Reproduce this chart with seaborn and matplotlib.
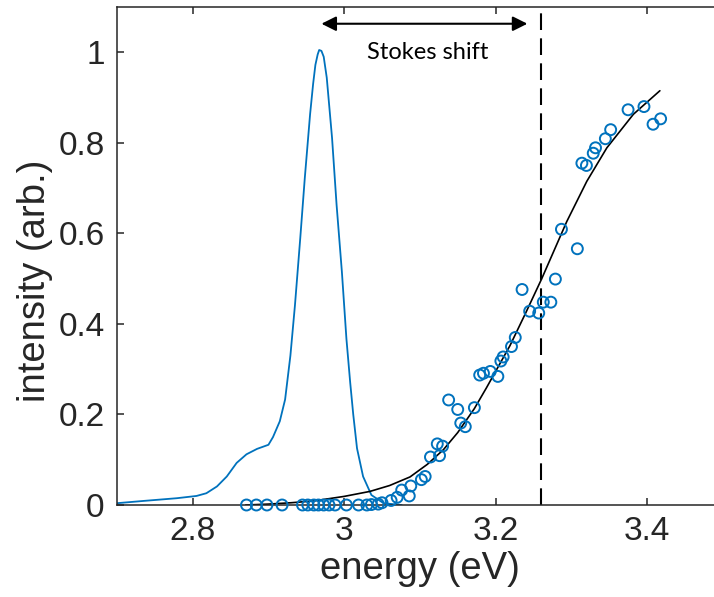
import numpy as np
import pandas as pd
import matplotlib
matplotlib.use("Agg")
import matplotlib.pyplot as plt
import seaborn as sns

# ---- data ----
pl_energy = [2.700, 2.735, 2.779, 2.805, 2.818, 2.832, 2.845, 2.858, 2.871, 2.885,
             2.900, 2.906, 2.915, 2.922, 2.929, 2.935, 2.942, 2.948, 2.955, 2.959,
             2.962, 2.965, 2.967, 2.970, 2.973, 2.977, 2.984, 2.990, 2.997, 3.003,
             3.008, 3.012, 3.017, 3.025, 3.036, 3.052, 3.076]
pl_intensity = [0.004, 0.009, 0.015, 0.020, 0.026, 0.041, 0.063, 0.093, 0.112, 0.124,
                0.133, 0.150, 0.185, 0.233, 0.330, 0.441, 0.589, 0.722, 0.863, 0.930,
                0.972, 0.995, 1.005, 1.003, 0.990, 0.944, 0.811, 0.663, 0.515, 0.367,
                0.270, 0.200, 0.125, 0.063, 0.022, 0.004, 0.000]

abs_energy = [2.871, 2.884, 2.898, 2.918, 2.945, 2.952, 2.960, 2.966, 2.973, 2.980,
              2.988, 3.003, 3.019, 3.030, 3.036, 3.045, 3.050, 3.062, 3.070, 3.076,
              3.086, 3.088, 3.102, 3.107, 3.114, 3.123, 3.126, 3.130, 3.138, 3.150,
              3.154, 3.160, 3.172, 3.179, 3.184, 3.193, 3.203, 3.207, 3.210, 3.221,
              3.226, 3.235, 3.245, 3.257, 3.263, 3.273, 3.279, 3.287, 3.308, 3.314,
              3.320, 3.329, 3.332, 3.345, 3.352, 3.375, 3.396, 3.408, 3.418]
abs_intensity = [0.000, 0.000, 0.000, 0.000, 0.000, 0.000, 0.000, 0.000, 0.000, 0.000,
                 0.000, 0.000, 0.000, 0.000, 0.001, 0.002, 0.005, 0.010, 0.017, 0.033,
                 0.020, 0.042, 0.056, 0.063, 0.106, 0.135, 0.109, 0.130, 0.232, 0.211,
                 0.181, 0.173, 0.215, 0.287, 0.291, 0.295, 0.284, 0.318, 0.327, 0.350,
                 0.370, 0.476, 0.428, 0.424, 0.448, 0.448, 0.499, 0.609, 0.566, 0.755,
                 0.750, 0.777, 0.789, 0.809, 0.829, 0.873, 0.880, 0.841, 0.853]

fit_energy = [2.870, 2.900, 2.930, 2.960, 2.980, 3.000, 3.034, 3.060, 3.087, 3.110,
              3.131, 3.150, 3.172, 3.188, 3.219, 3.240, 3.261, 3.294, 3.3205, 3.347,
              3.382, 3.417]
fit_intensity = [0.000, 0.002, 0.005, 0.009, 0.014, 0.019, 0.030, 0.043, 0.062, 0.090,
                 0.122, 0.160, 0.213, 0.259, 0.352, 0.425, 0.500, 0.626, 0.715, 0.789,
                 0.863, 0.915]

gap_energy = 3.26
arrow_start, arrow_end, arrow_y = 2.97, 3.242, 1.063
label_text = "Stokes shift"
x_ticks = [2.8, 3.0, 3.2, 3.4]
x_tick_labels = ["2.8", "3", "3.2", "3.4"]
y_ticks = [0, 0.2, 0.4, 0.6, 0.8, 1.0]
y_tick_labels = ["0", "0.2", "0.4", "0.6", "0.8", "1"]

# ---- style ----
sns.set_style("ticks")
plt.rcParams['font.family'] = ['Liberation Sans', 'DejaVu Sans']
plt.rcParams['xtick.direction'] = 'in'
plt.rcParams['ytick.direction'] = 'in'

blue = "#0072BD"
dark = "#262626"

fig = plt.figure(figsize=(7.14, 5.97), dpi=100)
ax = fig.add_axes([0.1639, 0.1541, 0.8483, 0.8342])

pl_df = pd.DataFrame({"energy": pl_energy, "intensity": pl_intensity})
abs_df = pd.DataFrame({"energy": abs_energy, "intensity": abs_intensity})
fit_df = pd.DataFrame({"energy": fit_energy, "intensity": fit_intensity})

sns.lineplot(data=pl_df, x="energy", y="intensity", ax=ax, color=blue, lw=1.3,
             estimator=None, sort=False)
sns.lineplot(data=fit_df, x="energy", y="intensity", ax=ax, color="black", lw=1.2,
             estimator=None, sort=False)
sns.scatterplot(data=abs_df, x="energy", y="intensity", ax=ax, marker="o", s=62,
                facecolor="none", edgecolor=blue, linewidth=1.4, zorder=3,
                clip_on=False)

ax.axvline(gap_energy, color="black", lw=1.5, dashes=(8, 4))

ax.annotate("", xy=(arrow_start, arrow_y), xytext=(arrow_end, arrow_y),
            arrowprops=dict(arrowstyle="<|-|>", color="black", lw=1.5,
                            mutation_scale=22, shrinkA=0, shrinkB=0))
ax.text((arrow_start + arrow_end) / 2 + 0.004, 1.0, label_text, ha="center",
        va="center", fontsize=17, family=["Lato", "DejaVu Sans"], color="black")

ax.set_xlim(2.7, 3.5)
ax.set_ylim(0, 1.1)
ax.set_xticks(x_ticks)
ax.set_xticklabels(x_tick_labels)
ax.set_yticks(y_ticks)
ax.set_yticklabels(y_tick_labels)
ax.tick_params(axis="both", which="both", direction="in", length=5, width=1.1,
               color=dark, labelsize=24, labelcolor=dark, top=True, right=True)
ax.tick_params(axis="x", pad=8)
ax.tick_params(axis="y", pad=9)
for sp in ax.spines.values():
    sp.set_visible(True)
    sp.set_color(dark)
    sp.set_linewidth(1.1)

ax.set_xlabel("energy (eV)", fontsize=27.5, color=dark, labelpad=3)
ax.set_ylabel("intensity (arb.)", fontsize=27.5, color=dark)
ax.yaxis.set_label_coords(-0.105, 0.45)

fig.savefig("out.png", dpi=100)
